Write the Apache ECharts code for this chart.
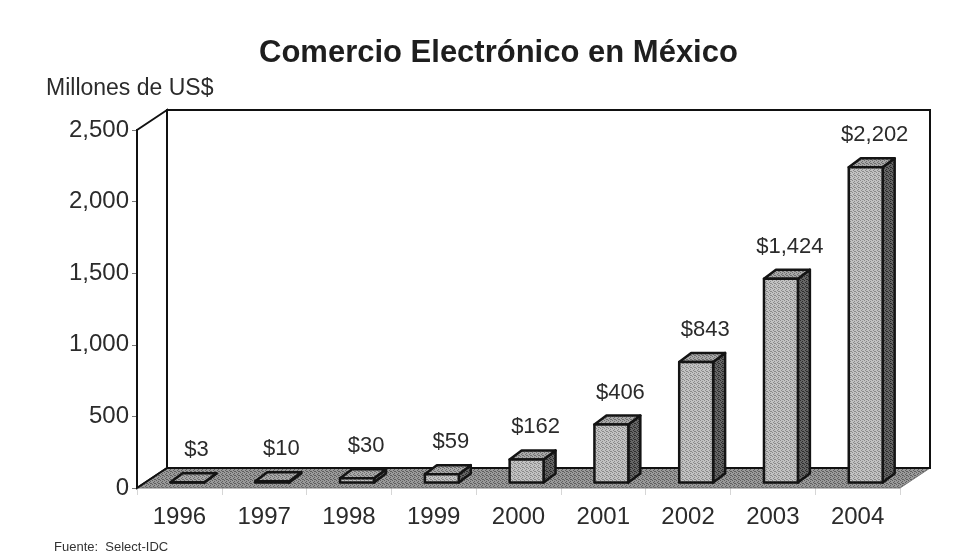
<!DOCTYPE html>
<html>
<head>
<meta charset="utf-8">
<title>Comercio Electrónico en México</title>
<script src="https://cdn.jsdelivr.net/npm/echarts@6/dist/echarts.min.js"></script>
<style>
  html, body { margin: 0; padding: 0; background: #ffffff; }
  #chart { width: 963px; height: 559px; }
</style>
</head>
<body>
<div id="chart"></div>
<script>
// Ventas de comercio electrónico, millones de US$
const years = ['1996', '1997', '1998', '1999', '2000', '2001', '2002', '2003', '2004'];
const sales = [3, 10, 30, 59, 162, 406, 843, 1424, 2202];
const yTicks = [0, 500, 1000, 1500, 2000, 2500];

const FONT = '"Liberation Sans", Arial, sans-serif';
const WALL_DEPTH = [30, -20];      // offset of the back wall from the front plane
const BAR_FRONT = 0.27;            // bar front face position inside the floor depth
const BAR_DEPTH = [12, -9];        // depth of each bar box
const BAR_WIDTH_RATIO = 0.40;

function withCommas(v) {
  return String(v).replace(/\B(?=(\d{3})+(?!\d))/g, ',');
}

// Small ordered-dither tile used as a halftone fill
function halftone(light, dark) {
  const c = document.createElement('canvas');
  c.width = 4; c.height = 4;
  const g = c.getContext('2d');
  g.fillStyle = light;
  g.fillRect(0, 0, 4, 4);
  g.fillStyle = dark;
  [[0, 0], [2, 1], [1, 2], [3, 3], [2, 3]].forEach(p => g.fillRect(p[0], p[1], 1, 1));
  return { image: c, repeat: 'repeat' };
}

const FLOOR_FILL = halftone('#9a9a9a', '#5e5e5e');
const FRONT_FILL = halftone('#c2c2c2', '#8a8a8a');
const TOP_FILL = halftone('#a8a8a8', '#6e6e6e');
const SIDE_FILL = halftone('#666666', '#2e2e2e');

function renderFrame(params, api) {
  const band = api.size([1, 0])[0];
  const left = api.coord([0, 0])[0] - band / 2;
  const right = api.coord([years.length - 1, 0])[0] + band / 2;
  const y0 = api.coord([0, yTicks[0]])[1];
  const yTop = api.coord([0, yTicks[yTicks.length - 1]])[1];
  const dx = WALL_DEPTH[0], dy = WALL_DEPTH[1];
  const line = { stroke: '#111', lineWidth: 2, fill: null };
  return {
    type: 'group',
    children: [
      { // back wall
        type: 'rect',
        shape: { x: left + dx, y: yTop + dy, width: right - left, height: y0 - yTop },
        style: { fill: '#ffffff', stroke: '#111', lineWidth: 2 }
      },
      { // side wall
        type: 'polygon',
        shape: { points: [[left, yTop], [left + dx, yTop + dy], [left + dx, y0 + dy], [left, y0]] },
        style: { fill: '#ffffff', stroke: '#111', lineWidth: 2 }
      },
      { // floor
        type: 'polygon',
        shape: { points: [[left, y0], [right, y0], [right + dx, y0 + dy], [left + dx, y0 + dy]] },
        style: { fill: FLOOR_FILL, stroke: '#777', lineWidth: 1 }
      },
      { type: 'line', shape: { x1: left, y1: y0, x2: left + dx, y2: y0 + dy }, style: line },
      { type: 'line', shape: { x1: left + dx, y1: y0 + dy, x2: right + dx, y2: y0 + dy }, style: line }
    ]
  };
}

function renderBar(params, api) {
  const idx = api.value(0);
  const val = api.value(1);
  const band = api.size([1, 0])[0];
  const w = band * BAR_WIDTH_RATIO;
  const base = api.coord([idx, 0]);
  const top = api.coord([idx, val]);
  const ox = WALL_DEPTH[0] * BAR_FRONT, oy = WALL_DEPTH[1] * BAR_FRONT;
  const x0 = base[0] - w / 2 + ox, x1 = base[0] + w / 2 + ox;
  const yb = base[1] + oy, yt = top[1] + oy;
  const bx = BAR_DEPTH[0], by = BAR_DEPTH[1];
  const edge = { stroke: '#141414', lineWidth: 2.5, lineJoin: 'round' };
  return {
    type: 'group',
    children: [
      {
        type: 'polygon',
        shape: { points: [[x1, yt], [x1 + bx, yt + by], [x1 + bx, yb + by], [x1, yb]] },
        style: Object.assign({ fill: SIDE_FILL }, edge)
      },
      {
        type: 'polygon',
        shape: { points: [[x0, yt], [x1, yt], [x1 + bx, yt + by], [x0 + bx, yt + by]] },
        style: Object.assign({ fill: TOP_FILL }, edge)
      },
      {
        type: 'rect',
        shape: { x: x0, y: yt, width: x1 - x0, height: yb - yt },
        style: Object.assign({ fill: FRONT_FILL }, edge)
      },
      {
        type: 'text',
        x: (x0 + x1) / 2 + bx / 2 + 3,
        y: yt - 32,
        style: {
          text: '$' + withCommas(val),
          fill: '#2b2b2b',
          font: '22px ' + FONT,
          align: 'center',
          verticalAlign: 'middle'
        }
      }
    ]
  };
}

const chart = echarts.init(document.getElementById('chart'), null, { renderer: 'canvas' });

chart.setOption({
  backgroundColor: '#ffffff',
  animation: false,
  title: [
    {
      text: 'Comercio Electrónico en México',
      left: 254, top: 33,
      textStyle: { fontFamily: FONT, fontSize: 31, fontWeight: 'bold', color: '#1e1e1e' }
    },
    {
      text: 'Millones de US$',
      left: 41, top: 72,
      textStyle: { fontFamily: FONT, fontSize: 23, fontWeight: 'normal', color: '#2b2b2b' }
    },
    {
      text: 'Fuente:  Select-IDC',
      left: 49, top: 536,
      textStyle: { fontFamily: FONT, fontSize: 13, fontWeight: 'normal', color: '#333' }
    }
  ],
  grid: { left: 137, right: 63, top: 130, bottom: 71, containLabel: false },
  xAxis: {
    type: 'category',
    data: years,
    boundaryGap: true,
    axisLine: { show: false },
    axisTick: { show: true, length: 7, lineStyle: { color: '#d6d6d6', width: 1 } },
    axisLabel: { fontFamily: FONT, fontSize: 24, color: '#2b2b2b', margin: 17 },
    splitLine: { show: false }
  },
  yAxis: {
    type: 'value',
    min: yTicks[0],
    max: yTicks[yTicks.length - 1],
    interval: yTicks[1] - yTicks[0],
    axisLine: { show: true, lineStyle: { color: '#111', width: 2 } },
    axisTick: { show: true, length: 5, lineStyle: { color: '#777', width: 1 } },
    axisLabel: {
      fontFamily: FONT, fontSize: 24, color: '#2b2b2b', margin: 8,
      formatter: v => withCommas(v)
    },
    splitLine: { show: false }
  },
  series: [
    {
      type: 'custom',
      name: 'marco',
      renderItem: renderFrame,
      data: [[0, 0]],
      z: 1,
      silent: true
    },
    {
      type: 'custom',
      name: 'ventas',
      renderItem: renderBar,
      data: sales.map((v, i) => [i, v]),
      encode: { x: 0, y: 1 },
      z: 5,
      clip: false
    }
  ]
});
</script>
</body>
</html>
